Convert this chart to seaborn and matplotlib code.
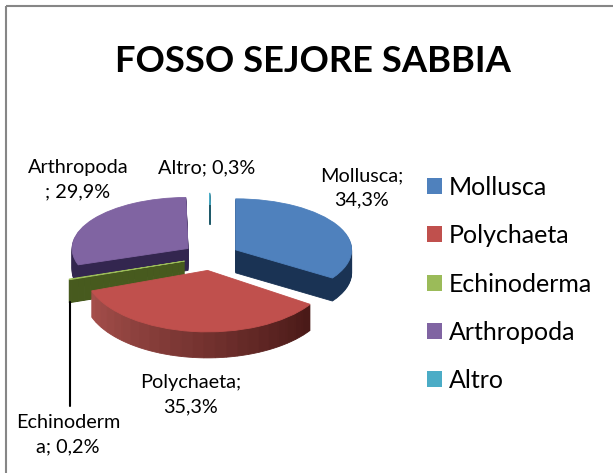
import numpy as np
import matplotlib
matplotlib.use("Agg")
import matplotlib.pyplot as plt
from matplotlib.patches import Patch, Rectangle
from matplotlib.transforms import Affine2D
import seaborn as sns

title = "FOSSO SEJORE SABBIA"
categories = ["Mollusca", "Polychaeta", "Echinoderma", "Arthropoda", "Altro"]
values = [34.3, 35.3, 0.2, 29.9, 0.3]
value_labels = ["Mollusca;\n34,3%", "Polychaeta;\n35,3%", "Echinoderm\na; 0,2%", "Arthropoda\n; 29,9%", "Altro; 0,3%"]

top_colors = ["#4F81BD", "#C0504D", "#9BBB59", "#8064A2", "#4BACC6"]
side_colors = [("#1A3354", "#1A3354"), ("#4A1A18", "#A54F4B"), ("#475A1E", "#475A1E"),
               ("#33264F", "#33264F"), ("#1F5A6A", "#1F5A6A")]
radii = [116, 123, 122, 116, 27]
squash = [0.44, 0.50, 0.46, 0.44, 0.44]
depths = [23, 26, 23, 22, 20]
label_xy = [(362, 188), (191, 395), (68, 435), (78, 180), (207, 168)]
explode_px = [28, 28, 28, 28, 103]
center_px = (211, 256.5)
draw_order = [3, 4, 0, 2, 1]

sns.set_theme(style="white")
plt.rcParams["font.family"] = ["Lato", "DejaVu Sans"]

fig = plt.figure(figsize=(6.13, 4.73), dpi=100)
ax = fig.add_axes([0, 0, 1, 1])

starts = np.concatenate([[0], np.cumsum(values)[:-1]])


def slice_layer(i, dy, colors):
    """One copy of slice i, drawn by pie and moved onto the tilted plane."""
    v = values[i]
    n = len(colors)
    parts = [v / n] * n + [100 - v]
    wedges, _ = ax.pie(parts, colors=list(colors) + ["none"], radius=radii[i],
                       startangle=90 - starts[i] * 3.6, counterclock=False,
                       wedgeprops={"linewidth": 0.6})
    wedges[-1].remove()
    mid = np.deg2rad((starts[i] + v / 2) * 3.6)
    px = center_px[0] + explode_px[i] * np.sin(mid)
    py = center_px[1] - explode_px[i] * np.cos(mid) * 0.5 + dy
    tr = Affine2D().scale(1, -squash[i]).translate(px, py) + ax.transData
    for w in wedges[:-1]:
        w.set_edgecolor(w.get_facecolor())
        w.set_transform(tr)


for i in draw_order:
    shades = sns.blend_palette(side_colors[i], 24 if side_colors[i][0] != side_colors[i][1] else 1)
    for d in range(depths[i], 0, -1):
        slice_layer(i, d, shades)
    slice_layer(i, 0, [top_colors[i]])

ax.set_aspect("auto")
ax.set_xlim(0, 613)
ax.set_ylim(473, 0)
ax.set_frame_on(False)
ax.set_xticks([])
ax.set_yticks([])

ax.add_patch(Rectangle((6, 6), 640, 500, fill=False, edgecolor="#868686", linewidth=1.5, clip_on=True))
ax.plot([70, 70], [302, 406], color="black", linewidth=1.5, zorder=5)

ax.text(313, 61, title, ha="center", va="center", fontsize=26.2, fontweight="bold", color="black")
for xy, s in zip(label_xy, value_labels):
    ax.text(xy[0], xy[1], s, ha="center", va="center", fontsize=14.3, color="black", linespacing=1.55)

handles = [Patch(facecolor=c, edgecolor="none") for c in top_colors]
leg = ax.legend(handles, categories, loc="upper left", bbox_to_anchor=(427 / 613, 1 - 176 / 473),
                bbox_transform=fig.transFigure, frameon=False, fontsize=18, handlelength=0.6,
                handleheight=0.6, handletextpad=0.28, labelspacing=1.01, borderpad=0, borderaxespad=0)
for t in leg.get_texts():
    t.set_color("black")

fig.savefig("out.png", dpi=100, facecolor="white")
